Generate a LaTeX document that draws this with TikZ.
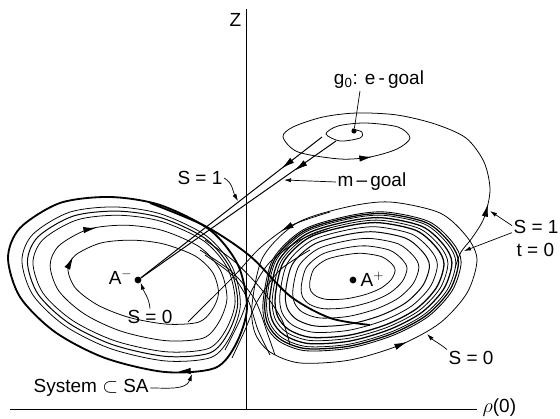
\documentclass[tikz,border=0pt]{standalone}
\usepackage{fontspec}
\setmainfont{Liberation Sans}
\usetikzlibrary{arrows.meta}

\begin{document}
\begin{tikzpicture}[x=0.025cm, y=-0.025cm,
  lbl/.style={font=\fontsize{13.5}{15}\selectfont, inner sep=1pt},
  orbit/.style={line width=0.55pt, line join=round},
  flowtip/.style={-{Latex[length=9pt,width=4.5pt]}, line width=0.6pt},
  ptr/.style={-{Latex[length=5pt,width=3pt]}, line width=0.5pt},
  dot/.style={circle, fill, inner sep=#1}]
  \useasboundingbox (0,0) rectangle (560,419);

  % axes
  \coordinate (ztop) at (246,9);
  \coordinate (orig) at (246,409);
  \coordinate (rleft) at (10,409);
  \coordinate (rright) at (477,409);
  \draw[line width=0.6pt] (ztop) -- (orig);
  \draw[line width=0.6pt] (rleft) -- (rright);
  \node[lbl, anchor=east] (zlab) at (243,20) {Z};
  \node[lbl, anchor=west] (rholab) at (481,408) {$\rho$(0)};

  % left lobe, nested orbits round A-
  \foreach \sx/\sy/\lw in {1/1/1.3, 0.914/0.88/0.55, 0.88/0.83/0.7, 0.846/0.78/0.55, 0.74/0.66/0.55, 0.63/0.48/0.55}
    \draw[orbit, line width=\lw pt, shift={(170,280)}, xscale=\sx, yscale=\sy]
      plot[smooth cycle] coordinates {(-162,-22) (-150,-52) (-110,-77) (-60,-83) (-10,-75) (40,-50)
        (68,-15) (77,28) (66,64) (45,88) (-5,92) (-65,78) (-115,52) (-150,17)};

  % right lobe, nested orbits round A+
  \foreach \sx/\lw in {0.38/0.55, 0.47/0.55, 0.56/0.55, 0.64/0.7, 0.7/0.55, 0.75/0.9, 0.78/0.55,
      0.81/0.9, 0.84/0.55, 0.86/0.9, 0.88/0.6, 1/0.55} {
    \pgfmathsetmacro{\sy}{1-(1-\sx)*1.15}
    \draw[orbit, line width=\lw pt, shift={(345,274)}, xscale=\sx, yscale=\sy]
      plot[smooth cycle] coordinates {(-93,31) (-90,59) (-75,78) (-45,89) (5,86) (55,71) (95,49)
        (122,19) (132,-14) (122,-37) (95,-61) (45,-72) (2,-67) (-48,-51) (-82,-17)};
  }

  % crossings at the pinch
  \draw[orbit, line width=1.3pt] plot[smooth] coordinates {(150,203) (205,226) (250,256) (290,296) (330,318) (370,325)};
  \draw[orbit] plot[smooth] coordinates {(330,212) (290,226) (260,248) (235,275) (205,305) (188,322)};
  \draw[orbit] plot[smooth] coordinates {(205,240) (235,262) (262,290) (282,320) (290,345)};
  \draw[orbit] plot[smooth] coordinates {(200,250) (232,272) (255,300) (268,335) (275,355)};
  \draw[orbit] plot[smooth] coordinates {(225,350) (240,320) (252,290) (270,262) (300,240) (330,228)};
  \draw[orbit] plot[smooth] coordinates {(232,358) (245,330) (258,300) (280,270) (310,250)};
  \draw[orbit] plot[smooth] coordinates {(270,355) (258,330) (248,300) (232,275) (205,255)};

  % excursion to the goal and spiral round g0
  \draw[orbit] plot[smooth] coordinates {(455,268) (461,252) (472,238) (484,218) (490,190) (484,162)
    (466,138) (435,124) (397,115) (357,113) (323,117) (293,127) (283,137) (298,152) (340,159)
    (370,157) (397,149) (410,138) (398,127) (365,123) (338,126) (326,134) (340,141) (360,138)
    (362,132) (352,129)};

  % fixed points
  \node[dot=1.7pt] (am) at (138,280) {};
  \node[dot=1.7pt] (ap) at (353,280) {};
  \node[dot=1.3pt] (g0) at (354,131) {};

  % return path g0 -> A-
  \draw[line width=0.7pt] (322,137) -- (am);
  \draw[line width=0.7pt] (336,141) -- (am);

  % flow arrows
  \draw[flowtip] (68.5,266) -- (73,257);
  \draw[flowtip] (84,230) -- (96,228);
  \draw[flowtip] (190,371) -- (178,371.5);
  \draw[flowtip] (395,347) -- (407,342);
  \draw[flowtip] (292,225) -- (281,231);
  \draw[flowtip] (485,216) -- (488,204);
  \draw[flowtip] (360,158.5) -- (372,157);
  \draw[flowtip] (292,160.3) -- (282,168.1);
  \draw[flowtip] (305,163.1) -- (295,170.3);

  % labels
  \node[lbl, anchor=east] (amlab) at (134,277) {A$^{-}$};
  \node[lbl, anchor=west] (aplab) at (359,279) {A$^{+}$};
  \node[lbl] (s0left) at (150,317) {S = 0};
  \draw[ptr] (s0left.north) to[out=95, in=-70] (am.south east);

  \node[lbl] (g0lab) at (379,80) {g\textsubscript{0}: e\,-\,goal};
  \coordinate (g0tail) at (360,91);
  \draw[line width=0.5pt] (g0tail) -- (g0);

  \node[lbl, anchor=west] (mlab) at (336,182) {m\,--\,goal};
  \coordinate (mtip) at (284,180);
  \draw[ptr] (mlab.west) -- (mtip);

  \node[lbl] (s1left) at (200,178) {S = 1};
  \coordinate (s1tip) at (238,201);
  \draw[ptr] (s1left.east) to[out=-30, in=120] (s1tip);

  \node[lbl, anchor=west] (s1right) at (512,227) {S = 1};
  \node[lbl, anchor=west] (t0lab) at (515,250) {t = 0};
  \coordinate (looptip) at (490,211);
  \coordinate (jagtip) at (464,251);
  \draw[ptr] ([yshift=1pt]s1right.west) -- (looptip);
  \draw[ptr] ([yshift=-4pt]s1right.west) -- (jagtip);

  \node[lbl, anchor=west] (s0right) at (447,358) {S = 0};
  \coordinate (s0tip) at (427,334);
  \draw[ptr] (s0right.north west) to[out=140, in=-45] (s0tip);

  \node[lbl, anchor=west] (syslab) at (32,388) {System $\subset$ SA};
  \coordinate (systip) at (192,374);
  \draw[ptr] (syslab.east) to[out=0, in=-110] (systip);
\end{tikzpicture}
\end{document}
